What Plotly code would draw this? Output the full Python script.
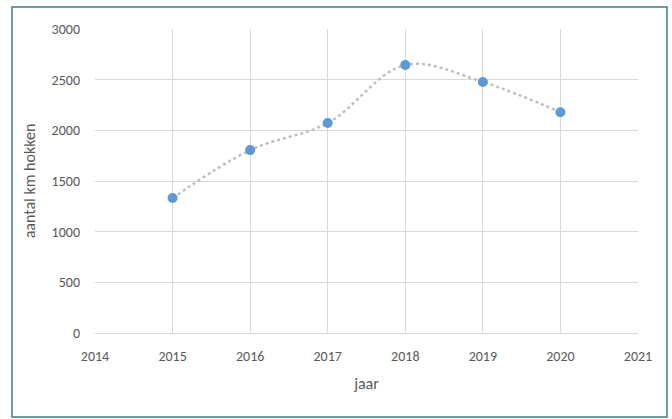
import plotly.graph_objects as go

years = [2015, 2016, 2017, 2018, 2019, 2020]
km_hokken = [1332, 1805, 2072, 2645, 2477, 2178]
x_ticks = [2014, 2015, 2016, 2017, 2018, 2019, 2020, 2021]
y_ticks = [0, 500, 1000, 1500, 2000, 2500, 3000]

W, H = 672, 419
L, R, T, B = 95, 34, 29, 86
pw, ph = W - L - R, H - T - B

fig = go.Figure()
fig.add_trace(go.Scatter(
    x=years, y=km_hokken, mode="lines+markers",
    line=dict(color="#BFBFBF", width=2.5, dash="dot", shape="spline", smoothing=1.0),
    marker=dict(color="#5B9BD5", size=10),
    showlegend=False,
))

font = dict(family="Carlito, Calibri, 'Liberation Sans', sans-serif", size=14, color="#595959")
fig.update_layout(
    width=W, height=H,
    margin=dict(l=L, r=R, t=T, b=B),
    paper_bgcolor="white", plot_bgcolor="white",
    font=font,
    xaxis=dict(range=[2014, 2021], tickvals=x_ticks, showgrid=True, gridcolor="#D9D9D9",
               gridwidth=1, zeroline=False, showline=True, linecolor="#D9D9D9",
               ticks="", ticklabelstandoff=10,
               title=dict(text="jaar", font=dict(size=16, color="#595959"), standoff=14)),
    yaxis=dict(range=[0, 3000], tickvals=y_ticks, showgrid=True, gridcolor="#D9D9D9",
               gridwidth=1, zeroline=False, showline=False, ticks="", ticklabelstandoff=14,
               title=dict(text="aantal km hokken", font=dict(size=16, color="#595959"), standoff=12)),
    shapes=[dict(type="rect", xref="paper", yref="paper",
                 x0=(12 - L) / pw, x1=(667 - L) / pw,
                 y0=(T + ph - 417) / ph, y1=(T + ph - 7) / ph,
                 line=dict(color="#3E7C86", width=1.5), fillcolor="rgba(0,0,0,0)", layer="below")],
)
fig.write_html("out.html", config={"displayModeBar": False},
               post_script="document.body.style.margin='0';document.body.style.overflow='hidden';")
